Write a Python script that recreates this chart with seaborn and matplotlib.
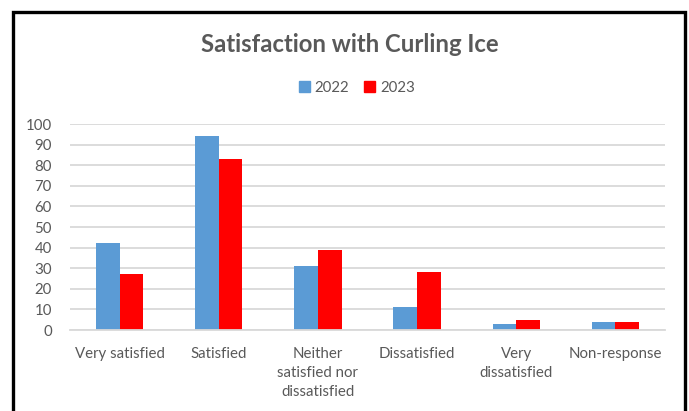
import matplotlib
matplotlib.use("Agg")
import matplotlib.pyplot as plt
import seaborn as sns
import pandas as pd
from matplotlib.patches import Rectangle

categories = ["Very satisfied", "Satisfied", "Neither\nsatisfied nor\ndissatisfied",
              "Dissatisfied", "Very\ndissatisfied", "Non-response"]
years = ["2022", "2023"]
values_2022 = [42, 94, 31, 11, 3, 4]
values_2023 = [27, 83, 39, 28, 5, 4]
y_ticks = [0, 10, 20, 30, 40, 50, 60, 70, 80, 90, 100]

df = pd.DataFrame({
    "category": categories * 2,
    "year": [years[0]] * len(categories) + [years[1]] * len(categories),
    "value": values_2022 + values_2023,
})

sns.set_theme(style="white")
plt.rcParams["font.family"] = ["Lato", "DejaVu Sans"]

text_color = "#595959"
grid_color = "#D9D9D9"

fig = plt.figure(figsize=(6.89, 4.11), dpi=100)
ax = fig.add_axes([70 / 689, 1 - 330 / 411, 595 / 689, 206 / 411])

sns.barplot(data=df, x="category", y="value", hue="year", order=categories,
            hue_order=years, palette={"2022": "#5B9BD5", "2023": "#FF0000"},
            width=0.477, gap=0, saturation=1, ax=ax, legend=False,
            edgecolor="none", linewidth=0)

ax.set_ylim(0, 100)
ax.set_xlim(-0.5, len(categories) - 0.5)
ax.set_yticks(y_ticks)
ax.yaxis.grid(True, color=grid_color, linewidth=1.3)
ax.set_axisbelow(True)
for side in ["top", "right", "left"]:
    ax.spines[side].set_visible(False)
ax.spines["bottom"].set_color(grid_color)
ax.spines["bottom"].set_linewidth(1.3)
ax.set_xlabel("")
ax.set_ylabel("")
ax.tick_params(axis="both", length=0, labelsize=10.8, colors=text_color)
ax.tick_params(axis="y", pad=13)
ax.tick_params(axis="x", pad=12)
for lbl in ax.get_yticklabels():
    lbl.set_horizontalalignment("right")
for lbl in ax.get_xticklabels():
    lbl.set_linespacing(1.45)

fig.text(350 / 689, 1 - 45 / 411, "Satisfaction with Curling Ice", ha="center",
         va="center", fontsize=17.2, fontweight="bold", color=text_color)

# Legend drawn as coloured squares with year labels
handles = [Rectangle((0, 0), 1, 1, color=c) for c in ["#5B9BD5", "#FF0000"]]
fig.legend(handles, years, loc="center", bbox_to_anchor=(357 / 689, 1 - 88 / 411),
           ncol=2, frameon=False, fontsize=10.8, handlelength=0.7, handleheight=0.7,
           handletextpad=0.35, columnspacing=1.0, labelcolor=text_color)

# Outer frame around the chart area
fig.patches.append(Rectangle((13 / 689, -0.05), 672 / 689, 1.05 - 12 / 411,
                             transform=fig.transFigure, fill=False,
                             edgecolor="black", linewidth=2.4))

fig.savefig("out.png", dpi=100)
